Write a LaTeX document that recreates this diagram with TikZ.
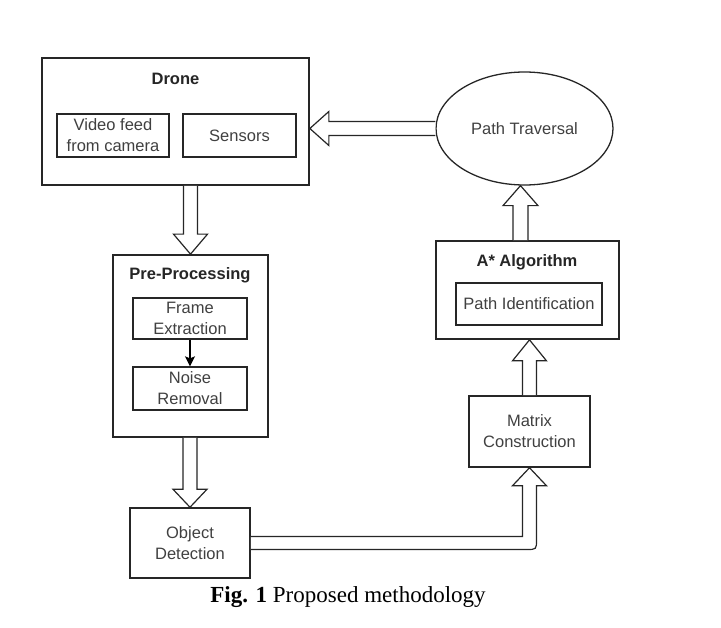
\documentclass[tikz,border=0pt]{standalone}
\usepackage{fontspec}
\setmainfont{Liberation Sans}
\newfontfamily\capfont{Liberation Serif}
\usetikzlibrary{calc,shapes.geometric,arrows.meta}
\newcommand{\dtxt}{\fontsize{16.5}{21}\selectfont}
\begin{document}
\begin{tikzpicture}[x=1pt,y=-1pt,
  outer/.style={draw=black!85,line width=1.7pt,fill=white,inner sep=0pt},
  inbox/.style={draw=black!85,line width=1.3pt,inner sep=0pt,align=center,font=\dtxt,text=black!75},
  ttl/.style={font=\dtxt\bfseries,text=black!85,inner sep=0pt},
  blk/.style={draw=black!85,line width=1.2pt,fill=white,line join=miter},
]
\useasboundingbox (0,0) rectangle (721,628);

% Drone
\node[outer,minimum width=267,minimum height=127] (drone) at (175.5,121.5) {};
\node[ttl] (dronet) at (175.5,79) {Drone};
\node[inbox,minimum width=112,minimum height=43] (video) at (113,135.5) {Video feed\\from camera};
\node[inbox,minimum width=113,minimum height=43] (sens) at (239.5,135.5) {Sensors};

% Pre-processing
\node[outer,minimum width=155,minimum height=182] (pre) at (190.5,346) {};
\node[ttl] (pret) at (190,275) {Pre-Processing};
\node[inbox,minimum width=114,minimum height=41] (frame) at (190,318.5) {Frame\\Extraction};
\node[inbox,minimum width=114,minimum height=43] (noise) at (190,388.5) {Noise\\Removal};
\draw[line width=1.3pt,draw=black,-{Stealth[length=10pt,width=10pt,inset=2pt]}] (frame) -- (noise);

% Object detection
\node[inbox,line width=1.5pt,minimum width=120,minimum height=70] (obj) at (190,543) {Object\\Detection};

% Matrix construction
\node[inbox,line width=1.5pt,minimum width=121,minimum height=71] (matrix) at (529.5,431.5) {Matrix\\Construction};

% A* algorithm
\node[outer,minimum width=183,minimum height=98] (astar) at (527.5,290) {};
\node[ttl] (astart) at (527,262) {A* Algorithm};
\node[inbox,minimum width=146,minimum height=42] (pathid) at (529,304) {Path Identification};

% Path traversal
\node[draw=black!85,line width=1.3pt,ellipse,minimum width=177,minimum height=113,inner sep=0pt,font=\dtxt,text=black!75] (trav) at (524.5,128.5) {Path Traversal};

% Block arrows
\draw[blk] let \p1=(pre.north), \p2=(drone.south) in
  (\x1-7pt,\y2) -- (\x1-7pt,\y1+20pt) -- (\x1-17pt,\y1+20pt) -- (\x1,\y1)
  -- (\x1+17pt,\y1+20pt) -- (\x1+7pt,\y1+20pt) -- (\x1+7pt,\y2);

\draw[blk] let \p1=(obj.north), \p2=(pre.south) in
  (\x1-7pt,\y2) -- (\x1-7pt,\y1+18pt) -- (\x1-17pt,\y1+18pt) -- (\x1,\y1)
  -- (\x1+17pt,\y1+18pt) -- (\x1+7pt,\y1+18pt) -- (\x1+7pt,\y2);

\draw[blk] let \p1=(matrix.north), \p2=(astar.south) in
  (\x1-7pt,\y1) -- (\x1-7pt,\y2-21pt) -- (\x1-17pt,\y2-21pt) -- (\x1,\y2)
  -- (\x1+17pt,\y2-21pt) -- (\x1+7pt,\y2-21pt) -- (\x1+7pt,\y1);

\draw[blk] let \p1=(astar.north), \p2=(trav.south) in
  (\x1-14.5pt,\y1) -- (\x1-14.5pt,\y2-20pt) -- (\x1-24.5pt,\y2-20pt) -- (\x1-7pt,\y2)
  -- (\x1+10.5pt,\y2-20pt) -- (\x1+0.5pt,\y2-20pt) -- (\x1+0.5pt,\y1);

\draw[blk] let \p1=(trav.west), \p2=(drone.east) in
  (\x1,\y1+7pt) -- (\x2+19pt,\y1+7pt) -- (\x2+19pt,\y1+17pt) -- (\x2,\y1)
  -- (\x2+19pt,\y1-17pt) -- (\x2+19pt,\y1-7pt) -- (\x1,\y1-7pt);

\draw[blk] let \p1=(obj.east), \p2=(matrix.south) in
  (\x1,\y1+6.5pt) -- (\x2-7pt,\y1+6.5pt) -- (\x2-7pt,\y2-18pt) -- (\x2-17pt,\y2-18pt)
  -- (\x2,\y2) -- (\x2+17pt,\y2-18pt) -- (\x2+7pt,\y2-18pt)
  -- (\x2+7pt,\y1+3.5pt) .. controls (\x2+7pt,\y1-6.5pt) .. (\x2-3pt,\y1-6.5pt)
  -- (\x1,\y1-6.5pt);

% Caption
\node[anchor=base,inner sep=0pt,font=\capfont\fontsize{23}{27}\selectfont] (cap) at (348,602) {\textbf{Fig. 1} Proposed methodology};
\end{tikzpicture}
\end{document}
